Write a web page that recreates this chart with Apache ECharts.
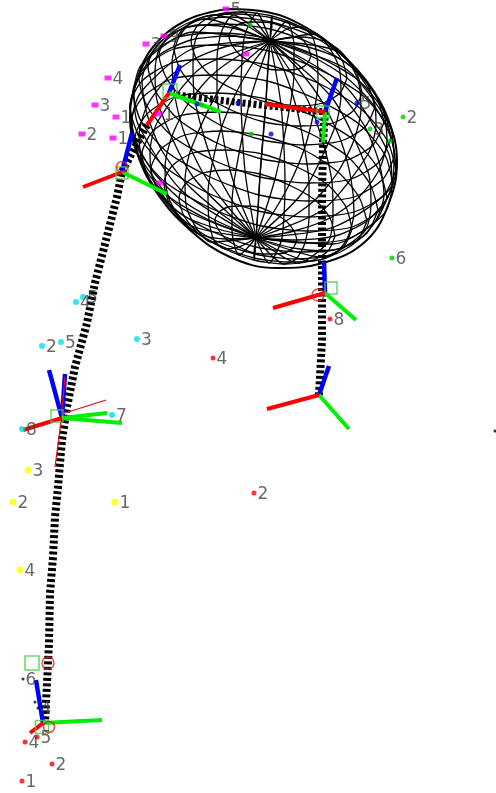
<!DOCTYPE html>
<html>
<head>
<meta charset="utf-8">
<style>html,body{margin:0;padding:0;background:#fff}#main{width:496px;height:793px}</style>
<script src="https://cdn.jsdelivr.net/npm/echarts@6/dist/echarts.min.js"></script>
</head>
<body>
<div id="main"></div>
<script>
// ellipsoid: rings of 16 points, top to bottom
var wireRings = [
	[[311,56],[307,64],[298,69],[284,70],[268,69],[253,63],[240,55],[232,45],[229,36],[233,28],[242,23],[256,22],[272,23],[287,29],[300,37],[308,47]],
	[[347,78],[340,93],[323,103],[296,106],[266,102],[237,91],[211,76],[196,58],[191,40],[198,25],[215,15],[242,12],[272,16],[301,27],[327,42],[342,60]],
	[[375,107],[365,127],[341,141],[304,145],[263,140],[222,126],[188,104],[167,79],[159,55],[169,35],[193,21],[230,17],[271,22],[312,36],[346,58],[367,83]],
	[[391,138],[379,162],[351,179],[309,183],[260,177],[213,160],[172,136],[147,106],[139,78],[151,54],[179,37],[221,33],[270,39],[317,56],[358,80],[383,110]],
	[[396,170],[384,195],[354,212],[309,217],[258,211],[208,193],[165,167],[139,136],[130,106],[142,81],[172,63],[217,59],[268,65],[318,83],[361,109],[387,140]],
	[[387,198],[375,222],[347,239],[305,243],[256,237],[209,220],[168,196],[143,166],[135,138],[147,114],[175,97],[217,93],[266,99],[313,116],[354,140],[379,170]],
	[[367,221],[357,241],[333,255],[296,259],[255,254],[214,240],[180,218],[159,193],[151,169],[161,149],[185,135],[222,131],[263,136],[304,150],[338,172],[359,197]],
	[[335,236],[328,251],[311,261],[284,264],[254,260],[225,249],[199,234],[184,216],[179,198],[186,183],[203,173],[230,170],[260,174],[289,185],[315,200],[330,218]],
	[[297,240],[293,248],[284,253],[270,254],[254,253],[239,247],[226,239],[218,229],[215,220],[219,212],[228,207],[242,206],[258,207],[273,213],[286,221],[294,231]]
];
// rings in between, no meridian runs through these
var extraRings = [
	[[362,93],[354,110],[333,123],[301,126],[264,122],[229,109],[198,91],[180,69],[174,47],[182,30],[203,17],[235,14],[272,18],[307,31],[338,49],[356,71]],
	[[384,122],[373,145],[347,160],[307,164],[262,159],[217,143],[179,120],[156,92],[148,66],[159,43],[185,28],[225,24],[270,29],[315,45],[353,68],[376,96]],
	[[395,155],[383,179],[354,197],[309,201],[259,195],[210,177],[167,152],[141,121],[133,91],[145,67],[174,49],[219,45],[269,51],[318,69],[361,94],[387,125]],
	[[393,185],[381,209],[352,227],[307,231],[257,225],[208,207],[165,182],[139,151],[131,121],[143,97],[172,79],[217,75],[267,81],[316,99],[359,124],[385,155]],
	[[378,210],[367,233],[341,248],[301,252],[256,247],[211,231],[173,208],[150,180],[142,154],[153,131],[179,116],[219,112],[264,117],[309,133],[347,156],[370,184]],
	[[352,229],[344,246],[323,259],[291,262],[254,258],[219,245],[188,227],[170,205],[164,183],[172,166],[193,153],[225,150],[262,154],[297,167],[328,185],[346,207]]
];
// meridians in between
var extraMeridians = [
	[[345,86],[388,152],[392,184],[384,214],[333,244]],
	[[333,99],[368,172],[371,205],[364,232],[321,257]],
	[[310,105],[332,182],[333,216],[328,242],[298,263]],
	[[281,105],[285,182],[284,216],[281,242],[269,263]],
	[[251,97],[236,170],[232,203],[232,230],[239,255]],
	[[223,84],[191,149],[185,181],[187,209],[211,242]],
	[[202,67],[158,121],[150,152],[154,181],[190,225]],
	[[192,49],[141,92],[132,121],[137,152],[180,207]],
	[[193,32],[142,64],[134,92],[138,124],[181,190]],
	[[205,19],[162,44],[155,71],[158,104],[193,177]],
	[[228,13],[198,34],[193,60],[194,94],[216,171]],
	[[257,13],[245,34],[242,60],[241,94],[245,171]],
	[[287,21],[294,46],[294,73],[290,106],[275,179]],
	[[315,34],[339,67],[341,95],[335,127],[303,192]],
	[[336,51],[372,95],[376,124],[368,154],[324,209]],
	[[346,69],[389,124],[394,155],[392,185],[334,227]]
];
var topPole = [270,41];
var bottomPole = [256,238];
var outline = [[227,9],[267,12],[307,28],[340,53],[373,90],[392,130],[397,160],[390,200],[367,240],[323,263],[277,268],[230,257],[190,230],[157,193],[137,153],[130,117],[137,80],[153,47],[187,20],[227,9]];

// dotted limbs
var ladderLeft = [[147,125],[137,143],[122,172],[117,197],[95,283],[87,323],[75,367],[67,407],[62,440],[58,487],[55,517],[53,557],[50,593],[49,643],[47,683],[45,722]];
var ladderTop = [[177,95],[243,103],[325,112]];
var ladderRight = [[325,112],[323,142],[322,200],[322,273],[322,340],[319,395]];

// axis gizmos, each [from, to]
var redLimbs = [[[122,172],[83,187]],[[169,93],[147,125]],[[325,112],[265,104]],[[325,293],[273,308]],[[319,395],[267,409]],[[62,418],[23,430]],[[43,723],[30,733]]];
var greenLimbs = [[[122,172],[167,194]],[[169,93],[221,112]],[[325,112],[323,142]],[[325,293],[356,320]],[[319,395],[349,429]],[[62,418],[107,413]],[[62,418],[122,423]],[[43,723],[102,720]]];
var blueLimbs = [[[122,172],[132,133]],[[169,93],[180,65]],[[325,112],[337,78]],[[325,293],[324,262]],[[319,395],[329,366]],[[62,418],[49,370]],[[62,418],[65,374]],[[43,723],[36,680]]];
var thinRed = [[[65,413],[106,400]],[[65,377],[60,430],[55,467]]];

// open markers [x, y, size]
var greenSquares = [[122,173,12],[170,91,14],[323,112,12],[331,288,12],[57,416,12],[42,727,13],[32,663,14]];
var redCircles = [[122,167,11],[318,295,12],[49,727,11],[48,663,12]];

// numbered points [x, y, label]
var magentaPoints = [[226,9,'5'],[146,44,'3'],[164,36,'9'],[108,78,'4'],[95,105,'3'],[116,117,'1'],[82,134,'2'],[113,138,'1'],[159,114,'1'],[160,183,''],[246,54,'']];
var greenPoints = [[250,25,''],[251,134,''],[202,105,''],[370,129,'3'],[390,141,''],[403,117,'2'],[392,258,'6']];
var bluePoints = [[197,104,''],[238,103,''],[271,134,''],[357,103,'5'],[317,122,'']];
var cyanPoints = [[76,302,'4'],[83,297,'5'],[42,346,'2'],[61,342,'5'],[137,339,'3'],[112,415,'7'],[22,429,'8']];
var yellowPoints = [[28,470,'3'],[13,502,'2'],[115,502,'1'],[20,570,'4']];
var redPoints = [[213,358,'4'],[254,493,'2'],[330,319,'8'],[25,742,'4'],[52,764,'2'],[22,781,'1'],[37,737,'5']];
var blackPoints = [[23,679,'6'],[35,702,''],[38,708,'4'],[495,431,'']];

var series = [];

function addLine(points, color, width, z, dash, smooth){
	series.push({
		type: 'line',
		data: points,
		symbol: 'none',
		silent: true,
		clip: false,
		smooth: smooth || false,
		z: z,
		lineStyle: {color: color, width: width, type: dash || 'solid', cap: 'butt'}
	});
}

wireRings.concat(extraRings).forEach(function(ring){
	addLine(ring.concat([ring[0]]), '#000', 1.3, 2, null, 0.25);
});
for (var k = 0; k < 16; k++) {
	var meridian = [topPole];
	for (var r = 0; r < wireRings.length; r++) {
		meridian.push(wireRings[r][k]);
	}
	meridian.push(bottomPole);
	addLine(meridian, '#000', 1.3, 2, null, 0.25);
}
extraMeridians.forEach(function(m){
	addLine([topPole].concat(m, [bottomPole]), '#000', 1.3, 2, null, 0.25);
});
addLine(outline, '#000', 2, 2, null, 0.4);

addLine(ladderLeft, '#000', 8, 3, [3,2.5]);
addLine(ladderTop, '#000', 7, 3, [3,2.5]);
addLine(ladderRight, '#000', 8, 3, [3,2.5]);

blueLimbs.forEach(function(s){ addLine(s, '#0000ff', 4.5, 4); });
greenLimbs.forEach(function(s){ addLine(s, '#00ee00', 4, 4); });
redLimbs.forEach(function(s){ addLine(s, '#ff0000', 4, 5); });
thinRed.forEach(function(s){ addLine(s, '#dd1111', 1.3, 5); });

function addOpen(points, symbol, color){
	series.push({
		type: 'scatter',
		data: points,
		symbol: symbol,
		symbolSize: function(v){ return v[2]; },
		silent: true,
		clip: false,
		z: 6,
		itemStyle: {color: 'rgba(0,0,0,0)', borderColor: color, borderWidth: 1.5}
	});
}
addOpen(greenSquares, 'rect', '#44cc44');
addOpen(redCircles, 'circle', '#dd2222');

function addPoints(points, color, symbol, size){
	series.push({
		type: 'scatter',
		data: points,
		symbol: symbol,
		symbolSize: size,
		silent: true,
		clip: false,
		z: 7,
		itemStyle: {color: color},
		label: {
			show: true,
			position: 'right',
			distance: 0,
			offset: [1,2],
			color: '#444',
			fontFamily: 'DejaVu Sans',
			fontSize: 17,
			formatter: function(p){ return p.value[2]; }
		}
	});
}
addPoints(magentaPoints, '#ff00ff', 'rect', [7,5]);
addPoints(greenPoints, '#00cc00', 'circle', 5);
addPoints(bluePoints, '#0000ff', 'circle', 5);
addPoints(cyanPoints, '#00ddee', 'circle', 6);
addPoints(yellowPoints, '#ffff00', 'circle', 7);
addPoints(redPoints, '#ff0000', 'circle', 5);
addPoints(blackPoints, '#000', 'circle', 3);

var myChart = echarts.init(document.getElementById('main'));
myChart.setOption({
	animation: false,
	backgroundColor: '#fff',
	grid: {left: 0, right: 0, top: 0, bottom: 0},
	xAxis: {type: 'value', min: 0, max: 496, show: false},
	yAxis: {type: 'value', min: 0, max: 793, inverse: true, show: false},
	series: series
});
</script>
</body>
</html>
